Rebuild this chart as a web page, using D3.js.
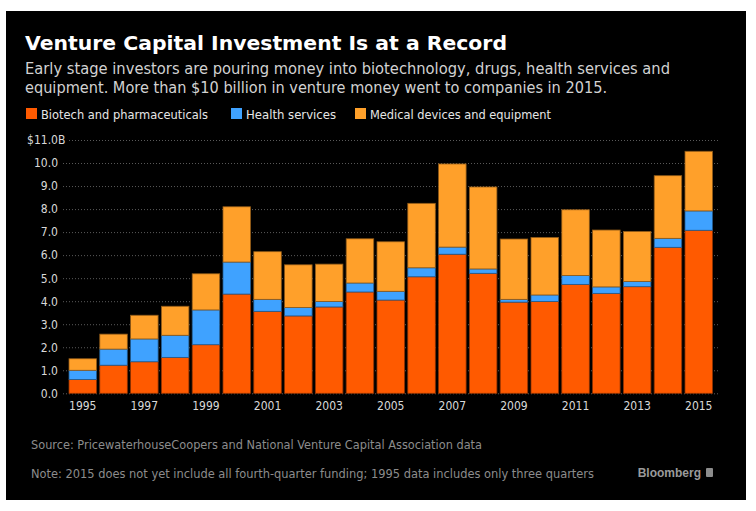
<!DOCTYPE html>
<html>
<head>
<meta charset="utf-8">
<script src="https://cdn.jsdelivr.net/npm/d3@7"></script>
<style>
  body { margin: 0; background: #fff; }
  svg { display: block; }
</style>
</head>
<body>
<script>
// values in $ billions
const years = d3.range(1995, 2016).map(String);
const biotech = [0.60, 1.22, 1.37, 1.56, 2.11, 4.31, 3.56, 3.36, 3.75, 4.40, 4.05,
    5.06, 6.04, 5.21, 3.96, 3.99, 4.73, 4.34, 4.63, 6.34, 7.08];
const health = [0.40, 0.70, 0.99, 0.96, 1.51, 1.39, 0.52, 0.37, 0.24, 0.39, 0.38,
    0.39, 0.31, 0.19, 0.12, 0.28, 0.39, 0.28, 0.23, 0.39, 0.84];
const medical = [0.50, 0.65, 1.03, 1.26, 1.57, 2.40, 2.07, 1.85, 1.62, 1.92, 2.15,
    2.80, 3.61, 3.56, 2.62, 2.50, 2.85, 2.47, 2.17, 2.72, 2.59];
const yTicks = [0, 1, 2, 3, 4, 5, 6, 7, 8, 9, 10, 11];
const xTicks = ["1995", "1997", "1999", "2001", "2003", "2005", "2007", "2009", "2011", "2013", "2015"];

const keys = ["biotech", "health", "medical"];
const labels = ["Biotech and pharmaceuticals", "Health services", "Medical devices and equipment"];
const colors = ["#ff5a00", "#3fa2ff", "#ffa02a"];

const W = 756, H = 511;
const condensed = "'DejaVu Sans Condensed', 'Liberation Sans Narrow', 'DejaVu Sans', sans-serif";
const plain = "'DejaVu Sans', Verdana, sans-serif";

const svg = d3.select("body").append("svg")
    .attr("width", W)
    .attr("height", H);

svg.append("rect")
    .attr("x", 6).attr("y", 11)
    .attr("width", 740).attr("height", 489)
    .attr("fill", "#000");

// titles
svg.append("text")
    .attr("x", 25).attr("y", 50)
    .attr("textLength", 482)
    .attr("lengthAdjust", "spacingAndGlyphs")
    .style("font-family", plain)
    .style("font-weight", "bold")
    .style("font-size", "20px")
    .style("fill", "#fff")
    .text("Venture Capital Investment Is at a Record");

const subLines = [
    ["Early stage investors are pouring money into biotechnology, drugs, health services and", 73.5, 645],
    ["equipment. More than $10 billion in venture money went to companies in 2015.", 92.7, 582]
];
subLines.forEach(l => {
    svg.append("text")
        .attr("x", 25).attr("y", l[1])
        .attr("textLength", l[2])
        .attr("lengthAdjust", "spacingAndGlyphs")
        .style("font-family", condensed)
        .style("font-size", "16px")
        .style("fill", "#d2d2d2")
        .text(l[0]);
});

// legend
const legX = [26, 231, 355];
const legW = [167, 90, 181];
const legend = svg.selectAll(".legend")
    .data(keys)
    .join("g")
    .attr("class", "legend")
    .attr("transform", (d, i) => "translate(" + legX[i] + ",108)");

legend.append("rect")
    .attr("width", 11).attr("height", 11)
    .attr("fill", (d, i) => colors[i]);

legend.append("text")
    .attr("x", 15).attr("y", 11)
    .attr("textLength", (d, i) => legW[i])
    .attr("lengthAdjust", "spacingAndGlyphs")
    .style("font-family", condensed)
    .style("font-size", "13px")
    .style("fill", "#e6e6e6")
    .text((d, i) => labels[i]);

// scales
const x = d3.scaleBand()
    .domain(years)
    .range([67.35, 714.15])
    .paddingInner(0.107)
    .paddingOuter(0.0535);

const y = d3.scaleLinear()
    .domain([0, 11])
    .range([393.3, 140]);

// y axis with dotted grid
const gridLeft = 63, gridRight = 718;
const yAxisG = svg.append("g")
    .attr("transform", "translate(" + gridLeft + ",0)")
    .call(d3.axisLeft(y)
        .tickValues(yTicks)
        .tickSize(-(gridRight - gridLeft))
        .tickPadding(5)
        .tickFormat(d => d === 11 ? "$11.0" : d.toFixed(1)));

yAxisG.select(".domain").remove();
yAxisG.selectAll(".tick line")
    .attr("stroke", "#5a5a5a")
    .attr("stroke-dasharray", "1,2")
    .attr("x1", d => d === 11 ? 6 : 0);
yAxisG.selectAll(".tick text")
    .style("font-family", condensed)
    .style("font-size", "12px")
    .style("fill", "#d9d9d9");
yAxisG.selectAll(".tick").filter(d => d === 11)
    .append("text")
    .attr("x", -5)
    .attr("dy", "0.32em")
    .attr("text-anchor", "start")
    .style("font-family", condensed)
    .style("font-size", "12px")
    .style("fill", "#d9d9d9")
    .text("B");

// stacked bars
const rows = years.map((yr, i) => ({
    year: yr,
    biotech: biotech[i],
    health: health[i],
    medical: medical[i]
}));
const series = d3.stack().keys(keys)(rows);

svg.append("g")
    .selectAll("g")
    .data(series)
    .join("g")
    .attr("fill", (d, i) => colors[i])
    .attr("stroke", (d, i) => d3.color(colors[i]).darker(1.6))
    .attr("stroke-width", 0.8)
    .selectAll("rect")
    .data(d => d)
    .join("rect")
    .attr("x", d => x(d.data.year))
    .attr("y", d => y(d[1]))
    .attr("width", x.bandwidth())
    .attr("height", d => y(d[0]) - y(d[1]));

// x axis
const xAxisG = svg.append("g")
    .attr("transform", "translate(0," + y(0) + ")")
    .call(d3.axisBottom(x)
        .tickValues(xTicks)
        .tickSize(0)
        .tickPadding(8));
xAxisG.select(".domain").remove();
xAxisG.selectAll(".tick text")
    .style("font-family", condensed)
    .style("font-size", "12px")
    .style("fill", "#d9d9d9");

// footer
svg.append("text")
    .attr("x", 31).attr("y", 449)
    .attr("textLength", 451)
    .attr("lengthAdjust", "spacingAndGlyphs")
    .style("font-family", condensed)
    .style("font-size", "12px")
    .style("fill", "#8c8c8c")
    .text("Source: PricewaterhouseCoopers and National Venture Capital Association data");

svg.append("text")
    .attr("x", 31).attr("y", 478)
    .attr("textLength", 563)
    .attr("lengthAdjust", "spacingAndGlyphs")
    .style("font-family", condensed)
    .style("font-size", "12px")
    .style("fill", "#8c8c8c")
    .text("Note: 2015 does not yet include all fourth-quarter funding; 1995 data includes only three quarters");

svg.append("text")
    .attr("x", 701).attr("y", 477)
    .attr("text-anchor", "end")
    .style("font-family", "'Liberation Sans', Arial, sans-serif")
    .style("font-weight", "bold")
    .style("font-size", "12px")
    .style("fill", "#9a9a9a")
    .text("Bloomberg");

svg.append("rect")
    .attr("x", 706).attr("y", 468)
    .attr("width", 7).attr("height", 9)
    .attr("rx", 1)
    .attr("fill", "#8c8c8c");
</script>
</body>
</html>
